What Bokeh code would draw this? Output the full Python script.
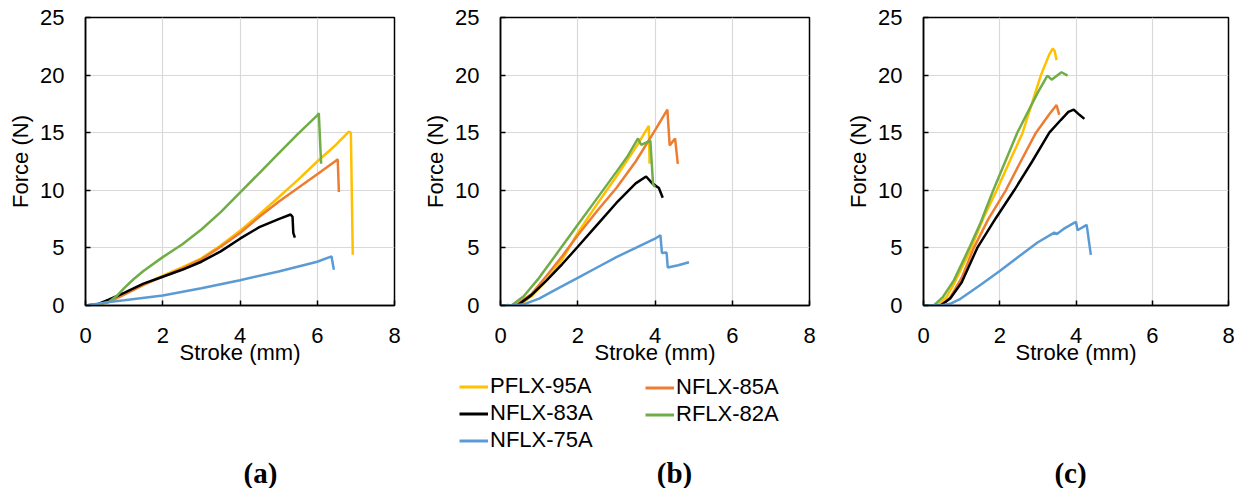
from bokeh.plotting import figure
from bokeh.layouts import row, column
from bokeh.models import Legend, LegendItem, Label, Range1d, FixedTicker
from bokeh.embed import file_html
from bokeh.resources import INLINE

# ---------------- data ----------------
series_names = ["PFLX-95A", "NFLX-85A", "NFLX-83A", "RFLX-82A", "NFLX-75A"]
series_colors = ["#FFC000", "#ED7D31", "#000000", "#70AD47", "#5B9BD5"]
x_ticks = [0, 2, 4, 6, 8]
y_ticks = [0, 5, 10, 15, 20, 25]
panel_labels = ["(a)", "(b)", "(c)"]

# panel (a)
a_95_x = [0, 0.3, 0.6, 1.0, 1.5, 2.0, 2.5, 3.0, 3.5, 4.0, 4.5, 5.0, 5.5, 6.0, 6.5, 6.82, 6.87, 6.92]
a_95_y = [0, 0.02, 0.35, 1.0, 1.8, 2.6, 3.3, 4.1, 5.2, 6.5, 7.9, 9.4, 10.9, 12.5, 14.0, 15.1, 15.0, 4.4]
a_85_x = [0, 0.3, 0.6, 1.0, 1.5, 2.0, 2.5, 3.0, 3.5, 4.0, 4.5, 5.0, 5.5, 6.0, 6.5, 6.53, 6.56]
a_85_y = [0, 0.02, 0.3, 0.95, 1.8, 2.5, 3.2, 4.0, 5.1, 6.3, 7.7, 9.0, 10.2, 11.4, 12.6, 12.7, 9.85]
a_83_x = [0, 0.3, 0.6, 1.0, 1.5, 2.0, 2.5, 3.0, 3.5, 4.0, 4.5, 5.0, 5.31, 5.36, 5.38, 5.42]
a_83_y = [0, 0.1, 0.5, 1.1, 1.9, 2.5, 3.1, 3.8, 4.7, 5.8, 6.8, 7.5, 7.9, 7.7, 6.3, 5.9]
a_82_x = [0, 0.3, 0.6, 0.8, 1.0, 1.25, 1.5, 2.0, 2.5, 3.0, 3.5, 4.0, 4.5, 5.0, 5.5, 6.0, 6.04, 6.1]
a_82_y = [0, 0.05, 0.3, 0.8, 1.5, 2.3, 3.0, 4.2, 5.3, 6.6, 8.1, 9.8, 11.5, 13.2, 14.9, 16.5, 16.7, 12.3]
a_75_x = [0, 0.5, 1.0, 2.0, 3.0, 4.0, 5.0, 6.0, 6.37, 6.43]
a_75_y = [0, 0.25, 0.45, 0.87, 1.5, 2.2, 2.95, 3.8, 4.26, 3.1]

# panel (b)
b_95_x = [0, 0.5, 0.8, 1.2, 1.6, 2.0, 2.5, 3.0, 3.5, 3.84, 3.86]
b_95_y = [0, 0.05, 0.8, 2.2, 4.0, 6.3, 8.8, 11.2, 13.7, 15.6, 12.3]
b_85_x = [0, 0.4, 0.8, 1.2, 1.6, 2.0, 2.5, 3.0, 3.5, 4.0, 4.32, 4.38, 4.52, 4.59]
b_85_y = [0, 0.05, 1.0, 2.6, 4.3, 6.1, 8.2, 10.2, 12.5, 15.2, 17.0, 13.9, 14.5, 12.3]
b_83_x = [0, 0.45, 0.8, 1.2, 1.6, 2.0, 2.5, 3.0, 3.5, 3.77, 3.93, 4.1, 4.2]
b_83_y = [0, 0.05, 0.9, 2.2, 3.6, 5.1, 7.0, 8.9, 10.6, 11.2, 10.6, 10.2, 9.35]
b_82_x = [0, 0.3, 0.6, 1.0, 1.5, 2.0, 2.5, 3.0, 3.3, 3.56, 3.64, 3.88, 3.95, 4.0]
b_82_y = [0, 0.05, 0.8, 2.4, 4.7, 7.0, 9.3, 11.6, 13.0, 14.5, 13.95, 14.3, 10.5, 10.3]
b_75_x = [0, 0.3, 0.6, 1.0, 1.5, 2.0, 2.5, 3.0, 3.5, 4.0, 4.14, 4.18, 4.3, 4.33, 4.6, 4.88]
b_75_y = [0, 0, 0.1, 0.6, 1.5, 2.4, 3.3, 4.2, 5.0, 5.8, 6.1, 4.55, 4.6, 3.3, 3.5, 3.75]

# panel (c)
c_95_x = [0, 0.36, 0.6, 0.8, 1.2, 1.6, 1.92, 2.3, 2.6, 3.08, 3.3, 3.39, 3.44, 3.49]
c_95_y = [0, 0, 0.7, 1.9, 4.6, 7.8, 10.0, 12.8, 15.0, 20.0, 21.8, 22.3, 22.1, 21.3]
c_85_x = [0, 0.45, 0.7, 1.0, 1.32, 1.7, 2.16, 2.55, 2.95, 3.3, 3.49, 3.56]
c_85_y = [0, 0, 0.7, 2.4, 5.0, 7.5, 10.0, 12.5, 15.0, 16.6, 17.4, 16.55]
c_83_x = [0, 0.45, 0.7, 1.0, 1.41, 1.9, 2.38, 2.85, 3.3, 3.6, 3.8, 3.94, 4.09, 4.22]
c_83_y = [0, 0, 0.6, 2.0, 5.0, 7.6, 10.0, 12.5, 15.0, 16.1, 16.8, 17.0, 16.55, 16.2]
c_82_x = [0, 0.27, 0.5, 0.8, 1.2, 1.5, 1.83, 2.46, 3.0, 3.25, 3.36, 3.62, 3.78]
c_82_y = [0, 0, 0.7, 2.2, 5.0, 7.2, 10.0, 15.0, 18.5, 19.95, 19.6, 20.25, 19.95]
c_75_x = [0, 0.45, 0.7, 0.97, 1.5, 2.0, 2.5, 2.99, 3.43, 3.5, 3.7, 3.96, 4.0, 4.04, 4.28, 4.35, 4.39]
c_75_y = [0, 0, 0.15, 0.58, 1.8, 3.0, 4.25, 5.47, 6.33, 6.2, 6.7, 7.2, 7.25, 6.53, 7.0, 5.33, 4.4]

panel_a = [(a_95_x, a_95_y), (a_85_x, a_85_y), (a_83_x, a_83_y), (a_82_x, a_82_y), (a_75_x, a_75_y)]
panel_b = [(b_95_x, b_95_y), (b_85_x, b_85_y), (b_83_x, b_83_y), (b_82_x, b_82_y), (b_75_x, b_75_y)]
panel_c = [(c_95_x, c_95_y), (c_85_x, c_85_y), (c_83_x, c_83_y), (c_82_x, c_82_y), (c_75_x, c_75_y)]

FONT = "Liberation Sans"
TOP_H = 373          # height of the chart row
BOT_H = 488 - TOP_H  # height of the legend / caption row


def make_panel(series, left, fw, right):
    p = figure(title=None, output_backend="svg", toolbar_location=None,
               frame_width=fw, frame_height=288,
               min_border_left=left, min_border_right=right,
               min_border_top=17, min_border_bottom=TOP_H - 17 - 288,
               x_range=Range1d(0, 8), y_range=Range1d(0, 25),
               background_fill_color="white", border_fill_color="white")
    p.outline_line_color = "black"
    p.outline_line_width = 1.5
    p.outline_line_alpha = 1.0
    p.xaxis.ticker = FixedTicker(ticks=x_ticks)
    p.yaxis.ticker = FixedTicker(ticks=y_ticks)
    for ax in (p.xaxis, p.yaxis):
        ax.axis_line_color = "black"
        ax.axis_line_width = 1.5
        ax.major_tick_in = 5
        ax.major_tick_out = 0
        ax.major_tick_line_color = "black"
        ax.major_tick_line_width = 1.5
        ax.minor_tick_line_color = None
        ax.major_label_text_font = FONT
        ax.major_label_text_font_size = "22px"
        ax.major_label_text_color = "black"
        ax.axis_label_text_font = FONT
        ax.axis_label_text_font_size = "22px"
        ax.axis_label_text_font_style = "normal"
        ax.axis_label_text_color = "black"
    p.xaxis.axis_label = "Stroke (mm)"
    p.yaxis.axis_label = "Force (N)"
    p.xaxis.major_label_standoff = 22
    p.yaxis.major_label_standoff = 21
    p.xaxis.axis_label_standoff = -6
    p.yaxis.axis_label_standoff = 4
    p.xgrid.grid_line_color = "#d9d9d9"
    p.ygrid.grid_line_color = "#d9d9d9"
    p.xgrid.grid_line_width = 1.2
    p.ygrid.grid_line_width = 1.2

    for (xs, ys), col in zip(series, series_colors):
        p.line(xs, ys, line_color=col, line_width=2.5)
    return p


def make_bottom(w, caption, cap_x):
    q = figure(title=None, output_backend="svg", toolbar_location=None,
               frame_width=w, frame_height=BOT_H, min_border=0,
               x_range=Range1d(0, w), y_range=Range1d(0, BOT_H),
               x_axis_location=None, y_axis_location=None,
               background_fill_color="white", border_fill_color="white")
    q.outline_line_color = None
    q.xgrid.visible = False
    q.ygrid.visible = False
    q.add_layout(Label(x=cap_x, y=16, text=caption, text_align="center",
                       text_baseline="middle", text_font="Liberation Serif",
                       text_font_style="bold", text_font_size="29px",
                       text_color="black"))
    return q


pa = make_panel(panel_a, 85, 309, 21)
pb = make_panel(panel_b, 85, 309, 29)
pc = make_panel(panel_c, 85, 305, 13)

qa = make_bottom(415, panel_labels[0], 260)
qb = make_bottom(423, panel_labels[1], 259)
qc = make_bottom(403, panel_labels[2], 232)

# legend swatches: one non-drawable (NaN) point each, only used for the legend glyph
nan = float("nan")
swatches = [qb.line(x=[nan, nan], y=[nan, nan], line_color=c, line_width=3)
            for c in series_colors]


def make_legend(idx, loc):
    items = [LegendItem(label=series_names[i], renderers=[swatches[i]]) for i in idx]
    return Legend(items=items, location=loc, orientation="vertical",
                  padding=0, margin=0, spacing=1,
                  glyph_width=29, glyph_height=25, label_height=25,
                  label_standoff=2,
                  label_text_font=FONT, label_text_font_size="22px",
                  label_text_color="black",
                  border_line_color=None, background_fill_alpha=0.0)


qb.add_layout(make_legend((0, 2, 4), (44, 35)))
qb.add_layout(make_legend((1, 3), (230, 61)))

layout = column(row(pa, pb, pc, spacing=0), row(qa, qb, qc, spacing=0), spacing=0)
open("out.html", "w").write(file_html(layout, INLINE))
